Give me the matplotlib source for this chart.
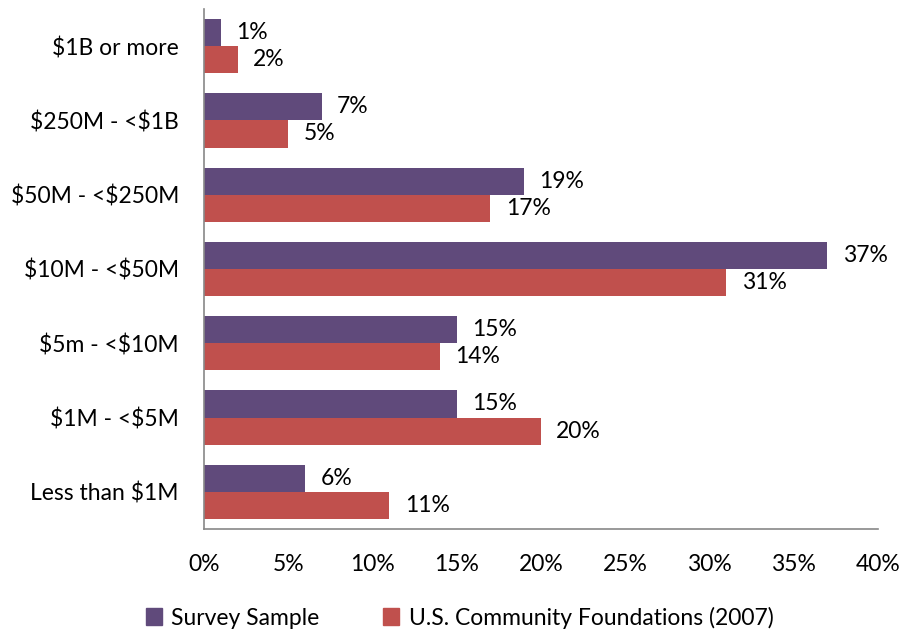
import matplotlib.pyplot as plt
import numpy as np
from matplotlib.patches import Patch

categories = ['$1B or more', '$250M - <$1B', '$50M - <$250M', '$10M - <$50M',
              '$5m - <$10M', '$1M - <$5M', 'Less than $1M']
survey = [1, 7, 19, 37, 15, 15, 6]
community = [2, 5, 17, 31, 14, 20, 11]

purple = '#604A7B'
red = '#C0504D'

plt.rcParams['font.family'] = ['Lato', 'DejaVu Sans']
plt.rcParams['text.parse_math'] = False
fs = 16.5

fig = plt.figure(figsize=(9.01, 6.32), dpi=100)
ax = fig.add_axes([0.2264, 0.163, 0.7481, 0.8228])

y = np.arange(len(categories))
h = 0.365
ax.barh(y - h / 2, survey, height=h, color=purple)
ax.barh(y + h / 2, community, height=h, color=red)

for i in range(len(categories)):
    ax.annotate(f'{survey[i]}%', (survey[i], y[i] - h / 2), xytext=(11, 0),
                textcoords='offset points', va='center', ha='left', fontsize=fs)
    ax.annotate(f'{community[i]}%', (community[i], y[i] + h / 2), xytext=(11, 0),
                textcoords='offset points', va='center', ha='left', fontsize=fs)

ax.set_yticks(y)
ax.set_yticklabels(categories, fontsize=fs)
ax.set_ylim(len(categories) - 0.5, -0.5)
ax.set_xlim(0, 40)
ax.set_xticks(np.arange(0, 41, 5))
ax.set_xticklabels([f'{v}%' for v in range(0, 41, 5)], fontsize=fs)
ax.tick_params(axis='both', length=0)
ax.tick_params(axis='x', pad=18)
ax.tick_params(axis='y', pad=18)

for s in ['top', 'right']:
    ax.spines[s].set_visible(False)
for s in ['left', 'bottom']:
    ax.spines[s].set_color('#888888')
    ax.spines[s].set_linewidth(1.2)

handles = [Patch(color=purple, label='Survey Sample'),
           Patch(color=red, label='U.S. Community Foundations (2007)')]
fig.legend(handles=handles, loc='center', bbox_to_anchor=(0.51, 0.023), ncol=2,
           frameon=False, fontsize=fs, handlelength=0.7, handleheight=0.7,
           handletextpad=0.4, columnspacing=2.8)

fig.savefig('out.png', dpi=100)
